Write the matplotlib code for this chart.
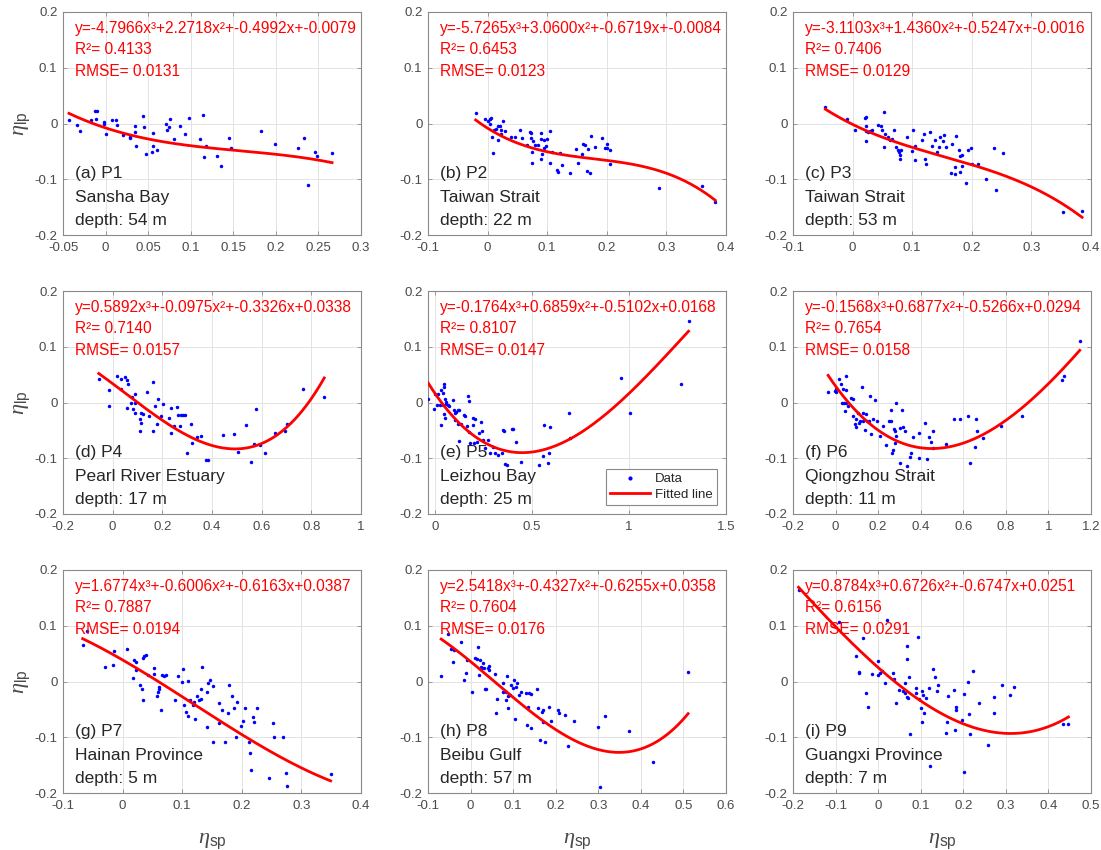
import numpy as np
import matplotlib
matplotlib.use("Agg")
import matplotlib.pyplot as plt
from matplotlib.ticker import FuncFormatter

plt.rcParams["font.family"] = ["Liberation Sans", "DejaVu Sans"]
plt.rcParams["axes.unicode_minus"] = False
plt.rcParams["mathtext.fontset"] = "custom"
plt.rcParams["mathtext.rm"] = "Liberation Sans"
plt.rcParams["mathtext.it"] = "Liberation Serif:italic"

# ---------------- data (eta_sp, eta_lp) per station ----------------
x_p1 = [-0.043, -0.034, -0.030, -0.017, -0.0125, -0.010, -0.011, -0.002, -0.002, 0.000,
        0.008, 0.012, 0.014, 0.020, 0.029, 0.029, 0.034, 0.034, 0.036, 0.044,
        0.045, 0.048, 0.055, 0.056, 0.056, 0.060, 0.071, 0.072, 0.075, 0.076,
        0.080, 0.088, 0.093, 0.0975, 0.111, 0.114, 0.116, 0.118, 0.131, 0.136,
        0.145, 0.147, 0.183, 0.199, 0.226, 0.233, 0.238, 0.2455, 0.2485, 0.266]
y_p1 = [0.006, -0.002, -0.013, 0.006, 0.022, 0.022, 0.008, 0.002, -0.001, -0.018,
        0.007, 0.007, -0.002, -0.020, -0.024, -0.026, -0.004, -0.016, -0.041, 0.013,
        -0.006, -0.054, -0.051, -0.017, -0.040, -0.048, -0.001, -0.011, -0.007, 0.008,
        -0.027, -0.005, -0.018, 0.010, -0.028, 0.015, -0.060, -0.040, -0.058, -0.076,
        -0.026, -0.044, -0.014, -0.037, -0.044, -0.026, -0.111, -0.052, -0.059, -0.053]

x_p2 = [-0.020, -0.005, 0.001, 0.0036, 0.005, 0.004, 0.007, 0.0097, 0.010, 0.0136,
        0.017, 0.018, 0.0204, 0.022, 0.023, 0.026, 0.030, 0.039, 0.046, 0.055,
        0.0585, 0.066, 0.071, 0.072, 0.0725, 0.074, 0.075, 0.076, 0.080, 0.085,
        0.089, 0.090, 0.090, 0.092, 0.094, 0.095, 0.098, 0.100, 0.104, 0.105,
        0.108, 0.117, 0.1185, 0.121, 0.124, 0.138, 0.148, 0.151, 0.158, 0.160,
        0.164, 0.166, 0.169, 0.172, 0.173, 0.180, 0.192, 0.197, 0.200, 0.201,
        0.206, 0.206, 0.287, 0.360, 0.382]
y_p2 = [0.018, 0.008, 0.005, 0.008, 0.0095, 0.000, -0.025, -0.0525, -0.011, -0.0095,
        -0.030, -0.0036, -0.0036, -0.011, -0.019, 0.005, -0.014, -0.024, -0.024, -0.012,
        -0.026, -0.038, -0.0155, -0.017, -0.026, -0.051, -0.070, -0.032, -0.039, -0.039,
        -0.017, -0.027, -0.063, -0.054, -0.030, -0.044, -0.041, -0.028, -0.013, -0.070,
        -0.051, -0.084, -0.087, -0.0525, -0.075, -0.089, -0.046, -0.070, -0.055, -0.036,
        -0.038, -0.085, -0.046, -0.088, -0.023, -0.042, -0.026, -0.044, -0.036, -0.044,
        -0.048, -0.072, -0.116, -0.112, -0.140]

x_p3 = [-0.0457, -0.009, 0.004, 0.0205, 0.023, 0.022, 0.022, 0.023, 0.026, 0.029,
        0.032, 0.042, 0.047, 0.049, 0.052, 0.053, 0.055, 0.059, 0.0625, 0.0665,
        0.069, 0.073, 0.077, 0.078, 0.080, 0.080, 0.082, 0.092, 0.100, 0.102,
        0.105, 0.105, 0.117, 0.120, 0.122, 0.123, 0.130, 0.133, 0.139, 0.142,
        0.145, 0.147, 0.151, 0.154, 0.157, 0.165, 0.167, 0.171, 0.172, 0.173,
        0.178, 0.180, 0.180, 0.183, 0.184, 0.191, 0.194, 0.198, 0.201, 0.210,
        0.223, 0.238, 0.241, 0.253, 0.353, 0.385]
y_p3 = [0.030, 0.008, -0.011, 0.0095, 0.0125, -0.005, -0.013, -0.032, -0.015, -0.013,
        -0.011, -0.002, -0.005, -0.012, -0.042, 0.0215, -0.018, -0.025, -0.030, -0.027,
        -0.012, -0.042, -0.047, -0.051, -0.057, -0.063, -0.048, -0.024, -0.049, -0.012,
        -0.041, -0.066, -0.030, -0.018, -0.063, -0.073, -0.0155, -0.041, -0.030, -0.052,
        -0.043, -0.024, -0.032, -0.020, -0.043, -0.089, -0.036, -0.078, -0.090, -0.022,
        -0.047, -0.059, -0.087, -0.076, -0.057, -0.107, -0.047, -0.044, -0.072, -0.073,
        -0.099, -0.044, -0.120, -0.0525, -0.159, -0.157]

x_p4 = [-0.056, -0.015, -0.016, 0.017, 0.034, 0.035, 0.051, 0.059, 0.058, 0.063,
        0.072, 0.0765, 0.080, 0.089, 0.090, 0.090, 0.109, 0.109, 0.114, 0.115,
        0.122, 0.138, 0.146, 0.161, 0.161, 0.172, 0.179, 0.184, 0.193, 0.201,
        0.227, 0.234, 0.235, 0.247, 0.261, 0.265, 0.274, 0.272, 0.283, 0.291,
        0.301, 0.317, 0.318, 0.340, 0.354, 0.374, 0.383, 0.444, 0.489, 0.506,
        0.537, 0.557, 0.568, 0.579, 0.592, 0.613, 0.654, 0.693, 0.703, 0.765, 0.852]
y_p4 = [0.042, 0.023, -0.0066, 0.048, 0.043, 0.0245, 0.045, 0.040, -0.009, 0.033,
        -0.0006, 0.010, -0.011, 0.016, -0.018, -0.0006, -0.030, -0.052, -0.0185, -0.0376,
        -0.021, 0.018, -0.0245, 0.037, -0.051, -0.0066, -0.039, 0.0054, -0.0245, -0.0018,
        -0.027, -0.054, -0.010, -0.042, -0.008, -0.022, -0.023, -0.042, -0.022, -0.022,
        -0.091, -0.039, -0.072, -0.061, -0.060, -0.104, -0.103, -0.059, -0.056, -0.088,
        -0.040, -0.106, -0.074, -0.011, -0.076, -0.090, -0.054, -0.051, -0.039, 0.025, 0.0095]

x_p5 = [-0.034, -0.005, 0.000, 0.009, 0.017, 0.026, 0.031, 0.033, 0.040, 0.043,
        0.047, 0.047, 0.047, 0.052, 0.053, 0.057, 0.060, 0.066, 0.074, 0.095,
        0.098, 0.102, 0.105, 0.109, 0.117, 0.121, 0.126, 0.126, 0.133, 0.152,
        0.155, 0.164, 0.169, 0.174, 0.178, 0.181, 0.198, 0.198, 0.207, 0.203,
        0.216, 0.229, 0.238, 0.243, 0.250, 0.259, 0.276, 0.284, 0.302, 0.312,
        0.326, 0.345, 0.350, 0.355, 0.362, 0.371, 0.397, 0.405, 0.416, 0.443,
        0.538, 0.557, 0.560, 0.583, 0.590, 0.591, 0.693, 0.695, 0.957, 1.003,
        1.267, 1.307]
y_p5 = [0.007, -0.012, 0.016, -0.005, 0.016, -0.005, 0.023, -0.041, 0.017, -0.004,
        0.034, 0.027, -0.020, 0.007, -0.027, 0.001, -0.002, -0.005, -0.007, 0.005,
        -0.014, -0.019, -0.032, -0.017, -0.013, -0.038, -0.014, -0.069, -0.039, -0.023,
        -0.0245, -0.042, 0.011, 0.002, -0.053, -0.073, -0.041, -0.027, -0.029, -0.073,
        -0.071, -0.054, -0.035, -0.051, -0.067, -0.081, -0.067, -0.091, -0.079, -0.091,
        -0.094, -0.090, -0.050, -0.051, -0.111, -0.113, -0.048, -0.047, -0.071, -0.106,
        -0.112, -0.096, -0.040, -0.108, -0.091, -0.044, -0.018, -0.064, 0.044, -0.018,
        0.033, 0.146]

x_p6 = [-0.035, -0.004, 0.000, 0.004, 0.017, 0.024, 0.031, 0.035, 0.040, 0.043,
        0.048, 0.051, 0.051, 0.060, 0.071, 0.082, 0.084, 0.089, 0.095, 0.098,
        0.104, 0.108, 0.114, 0.123, 0.127, 0.130, 0.136, 0.142, 0.148, 0.155,
        0.161, 0.167, 0.176, 0.185, 0.196, 0.210, 0.221, 0.237, 0.251, 0.260,
        0.262, 0.265, 0.271, 0.274, 0.277, 0.280, 0.282, 0.286, 0.302, 0.305,
        0.310, 0.315, 0.326, 0.337, 0.350, 0.353, 0.362, 0.394, 0.392, 0.419,
        0.428, 0.441, 0.447, 0.456, 0.459, 0.519, 0.555, 0.585, 0.623, 0.632,
        0.653, 0.661, 0.665, 0.693, 0.778, 0.874, 1.064, 1.075, 1.147]
y_p6 = [0.019, 0.021, 0.024, 0.019, 0.043, 0.033, -0.0006, 0.025, -0.0006, -0.016,
        0.022, 0.047, -0.0006, -0.0066, 0.0084, 0.0066, -0.024, -0.039, -0.029, -0.044,
        -0.018, -0.036, -0.034, 0.028, -0.0185, -0.033, -0.050, -0.021, -0.033, -0.033,
        0.011, -0.057, -0.030, 0.004, -0.033, -0.060, -0.042, -0.076, -0.033, -0.014,
        -0.033, -0.091, -0.085, -0.048, -0.073, -0.052, 0.000, -0.060, -0.045, -0.108,
        -0.014, -0.044, -0.052, -0.114, -0.097, -0.090, -0.061, -0.054, -0.100, -0.036,
        -0.101, -0.061, -0.071, -0.051, -0.082, -0.075, -0.029, -0.029, -0.0245, -0.109,
        -0.079, -0.030, -0.052, -0.063, -0.042, -0.0245, 0.041, 0.048, 0.110]

x_p7 = [-0.067, -0.059, -0.029, -0.016, -0.014, 0.008, 0.017, 0.019, 0.023, 0.023,
        0.029, 0.032, 0.034, 0.034, 0.036, 0.039, 0.042, 0.052, 0.052, 0.058,
        0.059, 0.061, 0.061, 0.065, 0.066, 0.069, 0.073, 0.088, 0.093, 0.099,
        0.102, 0.103, 0.106, 0.109, 0.110, 0.113, 0.118, 0.120, 0.122, 0.124,
        0.129, 0.131, 0.132, 0.133, 0.141, 0.142, 0.143, 0.147, 0.151, 0.152,
        0.161, 0.161, 0.166, 0.171, 0.177, 0.178, 0.184, 0.187, 0.191, 0.192,
        0.199, 0.202, 0.206, 0.212, 0.213, 0.216, 0.219, 0.220, 0.226, 0.246,
        0.253, 0.254, 0.269, 0.274, 0.276, 0.349]
y_p7 = [0.065, 0.091, 0.026, 0.030, 0.055, 0.0585, 0.0066, 0.038, 0.035, 0.020,
        -0.0066, -0.013, 0.042, -0.033, 0.046, 0.048, 0.011, 0.025, 0.014, -0.026,
        -0.0185, -0.014, -0.009, -0.051, 0.0125, 0.010, 0.0125, -0.033, 0.009, 0.000,
        0.022, -0.042, -0.054, -0.061, 0.001, -0.033, -0.043, -0.036, -0.067, -0.026,
        -0.034, -0.013, -0.031, 0.026, -0.082, -0.019, -0.0018, 0.002, -0.008, -0.109,
        -0.039, -0.074, -0.051, -0.108, -0.057, -0.0066, -0.026, -0.048, -0.099, -0.037,
        -0.079, -0.070, -0.048, -0.109, -0.128, -0.158, -0.063, -0.072, -0.048, -0.173,
        -0.074, -0.099, -0.099, -0.165, -0.188, -0.166]

x_p8 = [-0.069, -0.054, -0.045, -0.042, -0.040, -0.023, -0.015, -0.010, -0.008, 0.003,
        0.010, 0.014, 0.018, 0.019, 0.022, 0.024, 0.026, 0.029, 0.032, 0.033,
        0.036, 0.041, 0.043, 0.043, 0.058, 0.059, 0.063, 0.075, 0.075, 0.083,
        0.084, 0.086, 0.087, 0.088, 0.092, 0.095, 0.100, 0.103, 0.105, 0.106,
        0.108, 0.113, 0.119, 0.131, 0.133, 0.134, 0.137, 0.141, 0.141, 0.155,
        0.159, 0.164, 0.167, 0.169, 0.170, 0.176, 0.185, 0.188, 0.206, 0.208,
        0.221, 0.228, 0.242, 0.300, 0.304, 0.315, 0.373, 0.429, 0.511]
y_p8 = [0.009, 0.085, 0.058, 0.035, 0.057, 0.070, 0.003, 0.015, 0.039, -0.018,
        0.042, 0.040, 0.0615, 0.012, 0.038, 0.026, 0.024, 0.034, 0.024, -0.014,
        -0.014, 0.024, 0.027, 0.021, 0.014, -0.057, -0.032, -0.003, -0.018, -0.018,
        -0.034, 0.009, -0.048, -0.026, -0.0245, -0.007, -0.012, 0.003, -0.067, -0.009,
        -0.003, -0.025, -0.018, -0.020, -0.078, -0.046, -0.021, -0.083, -0.022, -0.014,
        -0.048, -0.105, -0.054, -0.072, -0.051, -0.109, -0.045, -0.070, -0.051, -0.057,
        -0.060, -0.115, -0.070, -0.081, -0.189, -0.061, -0.088, -0.145, 0.017]

x_p9 = [-0.187, -0.093, -0.035, -0.052, -0.046, -0.045, -0.029, -0.024, -0.014, -0.0015,
        -0.001, 0.004, 0.008, 0.015, 0.020, 0.034, 0.038, 0.041, 0.049, 0.059,
        0.062, 0.064, 0.067, 0.068, 0.068, 0.071, 0.073, 0.076, 0.089, 0.090,
        0.093, 0.096, 0.100, 0.103, 0.104, 0.106, 0.108, 0.112, 0.120, 0.122,
        0.128, 0.133, 0.139, 0.141, 0.159, 0.161, 0.163, 0.178, 0.181, 0.184,
        0.184, 0.196, 0.202, 0.202, 0.210, 0.213, 0.215, 0.222, 0.236, 0.258,
        0.271, 0.272, 0.291, 0.309, 0.320, 0.434, 0.447]
y_p9 = [0.164, 0.106, 0.078, 0.045, 0.017, 0.015, -0.021, -0.045, 0.013, 0.036,
        0.012, 0.015, 0.018, -0.003, 0.110, 0.015, 0.005, -0.038, -0.015, -0.017,
        -0.003, -0.021, 0.064, -0.027, 0.040, -0.030, 0.008, -0.094, -0.021, -0.011,
        0.079, -0.032, -0.048, -0.017, -0.072, -0.024, -0.057, -0.029, -0.011, -0.151,
        0.023, 0.008, -0.017, -0.006, -0.093, -0.072, -0.026, -0.015, -0.087, -0.045,
        -0.052, -0.069, -0.022, -0.162, 0.000, -0.059, -0.094, 0.019, -0.039, -0.114,
        -0.057, -0.027, -0.006, -0.024, -0.009, -0.076, -0.076]

# cubic fit coefficients [a3, a2, a1, a0] and fit statistics
coefs = [
    [-4.7966, 2.2718, -0.4992, -0.0079],
    [-5.7265, 3.0600, -0.6719, -0.0084],
    [-3.1103, 1.4360, -0.5247, -0.0016],
    [0.5892, -0.0975, -0.3326, 0.0338],
    [-0.1764, 0.6859, -0.5102, 0.0168],
    [-0.1568, 0.6877, -0.5266, 0.0294],
    [1.6774, -0.6006, -0.6163, 0.0387],
    [2.5418, -0.4327, -0.6255, 0.0358],
    [0.8784, 0.6726, -0.6747, 0.0251],
]
r2_values = [0.4133, 0.6453, 0.7406, 0.7140, 0.8107, 0.7654, 0.7887, 0.7604, 0.6156]
rmse_values = [0.0131, 0.0123, 0.0129, 0.0157, 0.0147, 0.0158, 0.0194, 0.0176, 0.0291]

panel_ids = ["(a) P1", "(b) P2", "(c) P3", "(d) P4", "(e) P5", "(f) P6",
             "(g) P7", "(h) P8", "(i) P9"]
locations = ["Sansha Bay", "Taiwan Strait", "Taiwan Strait", "Pearl River Estuary",
             "Leizhou Bay", "Qiongzhou Strait", "Hainan Province", "Beibu Gulf",
             "Guangxi Province"]
depths = [54, 22, 53, 17, 25, 11, 5, 57, 7]

x_ticks = [
    [-0.05, 0, 0.05, 0.1, 0.15, 0.2, 0.25, 0.3],
    [-0.1, 0, 0.1, 0.2, 0.3, 0.4],
    [-0.1, 0, 0.1, 0.2, 0.3, 0.4],
    [-0.2, 0, 0.2, 0.4, 0.6, 0.8, 1],
    [0, 0.5, 1, 1.5],
    [-0.2, 0, 0.2, 0.4, 0.6, 0.8, 1, 1.2],
    [-0.1, 0, 0.1, 0.2, 0.3, 0.4],
    [-0.1, 0, 0.1, 0.2, 0.3, 0.4, 0.5, 0.6],
    [-0.2, -0.1, 0, 0.1, 0.2, 0.3, 0.4, 0.5],
]
x_limits = [(-0.05, 0.3), (-0.1, 0.4), (-0.1, 0.4), (-0.2, 1.0), (-0.035, 1.5),
            (-0.2, 1.2), (-0.1, 0.4), (-0.1, 0.6), (-0.2, 0.5)]
y_ticks = [-0.2, -0.1, 0, 0.1, 0.2]

xs = [x_p1, x_p2, x_p3, x_p4, x_p5, x_p6, x_p7, x_p8, x_p9]
ys = [y_p1, y_p2, y_p3, y_p4, y_p5, y_p6, y_p7, y_p8, y_p9]

# ---------------- drawing ----------------
FRAME = "#8a8a8a"
TICKTXT = "#4a4a4a"


def fmt_tick(v, _pos=None):
    v = round(v, 4)
    if v == 0:
        return "0"
    return f"{v:g}"


def equation(c):
    a3, a2, a1, a0 = c
    return f"y={a3:.4f}x\u00b3+{a2:.4f}x\u00b2+{a1:.4f}x+{a0:.4f}"


fig = plt.figure(figsize=(11.01, 8.5), dpi=100)
W, H = 1101.0, 850.0
lefts = [63, 428, 793]
tops = [12, 291, 570]
aw, ah = 298, 223

for i in range(9):
    r, c = divmod(i, 3)
    ax = fig.add_axes([lefts[c] / W, 1 - (tops[r] + ah) / H, aw / W, ah / H])
    x = np.asarray(xs[i])
    y = np.asarray(ys[i])

    ax.plot(x, y, linestyle="none", marker="o", markersize=2.5,
            markeredgewidth=0, color="#0000ff", label="Data", zorder=3)
    xf = np.linspace(x.min(), x.max(), 200)
    ax.plot(xf, np.polyval(coefs[i], xf), color="#ff0000", linewidth=2.0,
            label="Fitted line", zorder=4)

    ax.set_xlim(*x_limits[i])
    ax.set_ylim(-0.2, 0.2)
    ax.set_xticks(x_ticks[i])
    ax.set_yticks(y_ticks)
    ax.xaxis.set_major_formatter(FuncFormatter(fmt_tick))
    ax.yaxis.set_major_formatter(FuncFormatter(fmt_tick))
    ax.grid(True, color="#e3e3e3", linewidth=0.7, zorder=0)
    ax.set_axisbelow(True)
    ax.tick_params(direction="in", length=3, width=0.6, color=FRAME,
                   labelsize=9.5, labelcolor=TICKTXT, top=True, right=True)
    ax.tick_params(axis="x", pad=5)
    ax.tick_params(axis="y", pad=4)
    for sp in ax.spines.values():
        sp.set_color(FRAME)
        sp.set_linewidth(0.8)

    # fit equation and statistics
    ax.text(0.04, 0.928, equation(coefs[i]), transform=ax.transAxes,
            color="#ff0000", fontsize=11.2, va="center", ha="left", zorder=5)
    ax.text(0.04, 0.83, f"R\u00b2= {r2_values[i]:.4f}", transform=ax.transAxes,
            color="#ff0000", fontsize=11.2, va="center", ha="left", zorder=5)
    ax.text(0.04, 0.735, f"RMSE= {rmse_values[i]:.4f}", transform=ax.transAxes,
            color="#ff0000", fontsize=11.2, va="center", ha="left", zorder=5)

    # station description
    ax.text(0.04, 0.277, panel_ids[i], transform=ax.transAxes, color="#262626",
            fontsize=12.5, va="center", ha="left", zorder=5)
    ax.text(0.04, 0.168, locations[i], transform=ax.transAxes, color="#262626",
            fontsize=12.5, va="center", ha="left", zorder=5)
    ax.text(0.04, 0.065, f"depth: {depths[i]} m", transform=ax.transAxes,
            color="#262626", fontsize=12.5, va="center", ha="left", zorder=5)

    if c == 0:
        ax.set_ylabel(r"$\eta_{\rm lp}$", fontsize=16, color=TICKTXT)
        ax.yaxis.set_label_coords(-0.105, 0.5)
    if r == 2:
        ax.set_xlabel(r"$\eta_{\rm sp}$", fontsize=16, color=TICKTXT)
        ax.xaxis.set_label_coords(0.5, -0.165)

    if i == 4:
        leg = ax.legend(loc="lower right", fontsize=9.5, frameon=True, fancybox=False,
                        edgecolor=FRAME, framealpha=1, handlelength=3.0,
                        handletextpad=0.4, labelspacing=0.25, borderpad=0.3,
                        borderaxespad=0.7, markerscale=1.2)
        leg.get_frame().set_linewidth(0.8)
        for t in leg.get_texts():
            t.set_color("#262626")

fig.savefig("out.png", dpi=100)
